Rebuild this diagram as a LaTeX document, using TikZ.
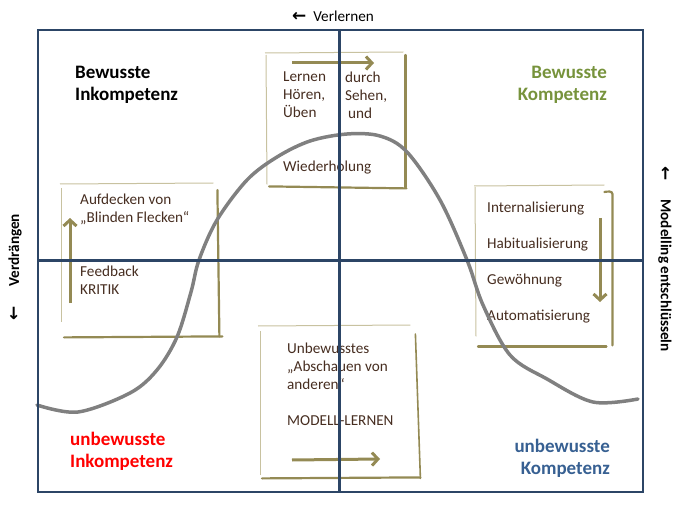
\documentclass[tikz,border=0pt]{standalone}
\usepackage{fontspec}
\setmainfont{Carlito}
\newfontfamily\arrowfont{DejaVu Sans}
\usepackage{tikz}
\usetikzlibrary{positioning,arrows.meta}

\definecolor{frameblue}{RGB}{44,69,102}
\definecolor{sketch}{RGB}{148,138,84}
\definecolor{sketchlight}{RGB}{200,194,160}
\definecolor{headgreen}{RGB}{119,147,60}
\definecolor{headblue}{RGB}{55,96,146}
\definecolor{boxink}{RGB}{70,45,32}
\definecolor{curvegray}{RGB}{128,128,128}

\newcommand{\sidearrow}{{\arrowfont\bfseries\fontsize{17}{18}\selectfont ←}}

\begin{document}
\begin{tikzpicture}[
  x=1pt, y=-1pt,
  font=\fontsize{15.2}{18}\selectfont,
  area/.style={inner sep=0pt, anchor=north west},
  thinedge/.style={draw=sketchlight, line width=1pt},
  thickedge/.style={draw=sketch, line width=2.2pt, line cap=round},
  flow/.style={draw=sketch, line width=3pt, -{Straight Barb[length=6pt, width=13pt]}},
  boxtxt/.style={anchor=north west, inner sep=0pt, align=left, text=boxink,
                 execute at begin node=\strut},
  head/.style={inner sep=0pt, font=\fontsize{19}{22}\selectfont\bfseries,
               execute at begin node=\strut},
  side/.style={font=\fontsize{15.2}{18}\selectfont},
  axis/.style={draw=frameblue, line width=3pt}
]
\useasboundingbox (0,0) rectangle (678,516);

% outer frame (drawn at the end)
\node[area, minimum width=605pt, minimum height=462pt] (frame) at (37,29) {};

% sketched boxes
\node[area, minimum width=139pt, minimum height=134pt] (lern) at (266,53) {};
\node[area, minimum width=158pt, minimum height=152pt] (feed) at (61,185) {};
\node[area, minimum width=138pt, minimum height=160pt] (habit) at (474,186) {};
\node[area, minimum width=158pt, minimum height=152pt] (modell) at (260,326) {};

\draw[thinedge] ([xshift=-1pt]lern.north west) -- ([xshift=-2pt, yshift=1pt]lern.north east);
\draw[thinedge] ([yshift=-2pt]lern.north west) -- ([xshift=1pt, yshift=3pt]lern.south west);
\draw[thickedge] ([yshift=-2pt]lern.north east) -- (lern.south east);
\draw[thickedge] ([xshift=3pt, yshift=1pt]lern.south west) -- ([xshift=1pt, yshift=-1pt]lern.south east);

\draw[thinedge] ([xshift=-1pt, yshift=1pt]feed.north west) -- ([xshift=-6pt, yshift=2pt]feed.north east);
\draw[thinedge] ([yshift=-3pt]feed.north west) -- ([yshift=15pt]feed.south west);
\draw[thickedge] ([xshift=-2pt, yshift=-5pt]feed.north east) -- ([yshift=1pt]feed.south east);
\draw[thickedge] ([xshift=3pt]feed.south west) -- ([xshift=3pt, yshift=1pt]feed.south east);

\draw[thinedge] (habit.north west) -- ([xshift=-8pt, yshift=1pt]habit.north east);
\draw[thinedge] ([xshift=1pt, yshift=-1pt]habit.north west) -- ([xshift=2pt, yshift=10pt]habit.south west);
\draw[thickedge] ([xshift=-8pt, yshift=-6pt]habit.north east) to[out=10, in=90] ([yshift=-8pt]habit.north east) -- ([yshift=1pt]habit.south east);
\draw[thickedge] ([xshift=4pt]habit.south west) -- ([xshift=-6pt]habit.south east);

\draw[thinedge] ([xshift=-2pt]modell.north west) -- ([xshift=-8pt, yshift=1pt]modell.north east);
\draw[thinedge] ([yshift=-5pt]modell.north west) -- ([yshift=3pt]modell.south west);
\draw[thickedge, line width=1.6pt] ([xshift=-3pt, yshift=-8pt]modell.north east) -- ([xshift=2pt]modell.south east);
\draw[thickedge] ([xshift=2pt]modell.south west) -- ([xshift=2pt, yshift=1pt]modell.south east);

% arrows in the boxes
\coordinate (lernA) at (292,63);
\coordinate (lernB) at (374,63);
\coordinate (feedA) at (70,303);
\coordinate (feedB) at (70,218);
\coordinate (habitA) at (600,218);
\coordinate (habitB) at (600,302);
\coordinate (modellA) at (292,460);
\coordinate (modellB) at (380,459);
\draw[flow] (lernA) -- (lernB);
\draw[flow] (feedA) -- (feedB);
\draw[flow] (habitA) -- (habitB);
\draw[flow] (modellA) -- (modellB);

% box texts
\node[boxtxt] (lernL) at (283,72) {Lernen\\Hören,\\Üben\\[36pt]Wiederholung};
\node[boxtxt] (lernR) at (345,72) {durch\\Sehen,\\\hspace*{3pt}und};
\node[boxtxt] (feedtxt) at (80,194) {Aufdecken von\\„Blinden Flecken“\\[36pt]Feedback\\KRITIK};
\node[boxtxt] (habittxt) at (487,202) {Internalisierung\\[18pt]Habitualisierung\\[18pt]Gewöhnung\\[18pt]Automatisierung};
\node[boxtxt] (modelltxt) at (287,343) {Unbewusstes\\„Abschauen von\\anderen“\\[18pt]MODELL-LERNEN};

% quadrant headings
\node[head, anchor=north west, align=left] (bi) at (75,66) {Bewusste\\Inkompetenz};
\node[head, anchor=north east, align=right, text=headgreen] (bk) at (607,66) {Bewusste\\Kompetenz};
\node[head, anchor=north west, align=left, text=red] (ui) at (70,432) {unbewusste\\Inkompetenz};
\node[head, anchor=north east, align=right, text=headblue] (uk) at (610,439) {unbewusste\\Kompetenz};

% learning curve
\draw[draw=curvegray, line width=3.5pt, line cap=round] plot[smooth, tension=0.55] coordinates {
  (37,405) (78,412) (130,393) (157,370) (177,337) (191,292) (199,260) (217,220)
  (247,180) (277,157) (310,141) (347,134) (380,136) (407,152) (440,200)
  (467,260) (483,305) (510,355) (547,379) (593,402) (638,399)};

% axes and frame
\draw[axis] (frame.north) -- (frame.south);
\draw[axis] (frame.west) -- (frame.east);
\node[area, draw=frameblue, line width=2pt, minimum width=605pt, minimum height=462pt] (rim) at (37,29) {};

% outer labels
\node[side] (verl) at (333,16) {\sidearrow\hspace{7pt}Verlernen};
\node[side, rotate=90] (verd) at (15,267) {\sidearrow\hspace{19pt}\textbf{Verdrängen}};
\node[side, rotate=-90] (mod) at (665,259) {\sidearrow\hspace{19pt}\textbf{Modelling entschlüsseln}};
\end{tikzpicture}
\end{document}
